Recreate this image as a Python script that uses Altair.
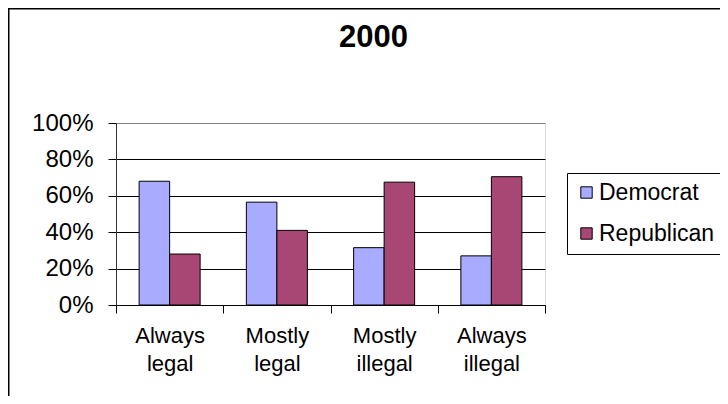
import altair as alt
import pandas as pd

categories = ["Always legal", "Mostly legal", "Mostly illegal", "Always illegal"]
parties = ["Democrat", "Republican"]
democrat = [0.68, 0.565, 0.315, 0.27]
republican = [0.28, 0.41, 0.675, 0.705]
y_ticks = [0, 0.2, 0.4, 0.6, 0.8, 1.0]
colors = ["#a9abff", "#a84773"]

rows = []
for c, d, r in zip(categories, democrat, republican):
    rows.append({"cat": c, "party": "Democrat", "value": d})
    rows.append({"cat": c, "party": "Republican", "value": r})
df = pd.DataFrame(rows)

FONT = "Liberation Sans"

bars = alt.Chart(df).mark_bar(stroke="black", strokeWidth=1).encode(
    x=alt.X(
        "cat:N",
        sort=categories,
        scale=alt.Scale(paddingInner=0, paddingOuter=0),
        axis=alt.Axis(
            title=None,
            labelAngle=0,
            tickBand="extent",
            labelExpr="split(datum.label, ' ')",
            labelFontSize=22,
            labelLineHeight=28,
            labelPadding=12,
            tickSize=8,
            domainColor="black",
            tickColor="black",
            labelColor="black",
            labelFont=FONT,
        ),
    ),
    xOffset=alt.XOffset(
        "party:N", sort=parties, scale=alt.Scale(paddingOuter=0.758, paddingInner=0)
    ),
    y=alt.Y(
        "value:Q",
        scale=alt.Scale(domain=[0, 1]),
        axis=alt.Axis(
            title=None,
            format=".0%",
            values=y_ticks,
            labelFontSize=24,
            labelPadding=15,
            tickSize=8,
            domainColor="#333333",
            tickColor="black",
            labelColor="black",
            labelFont=FONT,
            grid=True,
            gridColor=alt.condition("datum.value >= 1", alt.value("#808080"), alt.value("black")),
            gridWidth=1,
        ),
    ),
    color=alt.Color(
        "party:N",
        sort=parties,
        scale=alt.Scale(domain=parties, range=colors),
        legend=alt.Legend(
            title=None,
            orient="none",
            legendX=451,
            legendY=50,
            strokeColor="black",
            padding=8,
            fillColor="white",
            symbolType="square",
            symbolSize=130,
            symbolStrokeColor="black",
            symbolStrokeWidth=1,
            labelFontSize=23,
            labelFont=FONT,
            labelColor="black",
            labelOffset=1,
            rowPadding=17,
            labelLimit=300,
        ),
    ),
)

frame_src = pd.DataFrame({"k": [0]})
top_line = alt.Chart(frame_src).mark_rule(color="black", strokeWidth=3).encode(
    x=alt.value(-108), x2=alt.value(620), y=alt.value(-115)
)
left_line = alt.Chart(frame_src).mark_rule(color="black", strokeWidth=3).encode(
    x=alt.value(-108), y=alt.value(-115), y2=alt.value(300)
)

chart = alt.layer(bars, top_line, left_line).properties(
    width=429,
    height=182,
    padding={"left": 108, "top": 115, "right": 175, "bottom": 91},
    autosize=alt.AutoSizeParams(type="none"),
    title=alt.TitleParams(
        "2000",
        fontSize=31,
        fontWeight="bold",
        font=FONT,
        color="black",
        anchor="middle",
        frame="group",
        dx=43,
        offset=-71,
        baseline="alphabetic",
    ),
).configure_view(fill="#cccccc", stroke="#808080", strokeWidth=1).configure(background="white")

chart.save("out.html", embed_options={"renderer": "svg", "actions": False})
